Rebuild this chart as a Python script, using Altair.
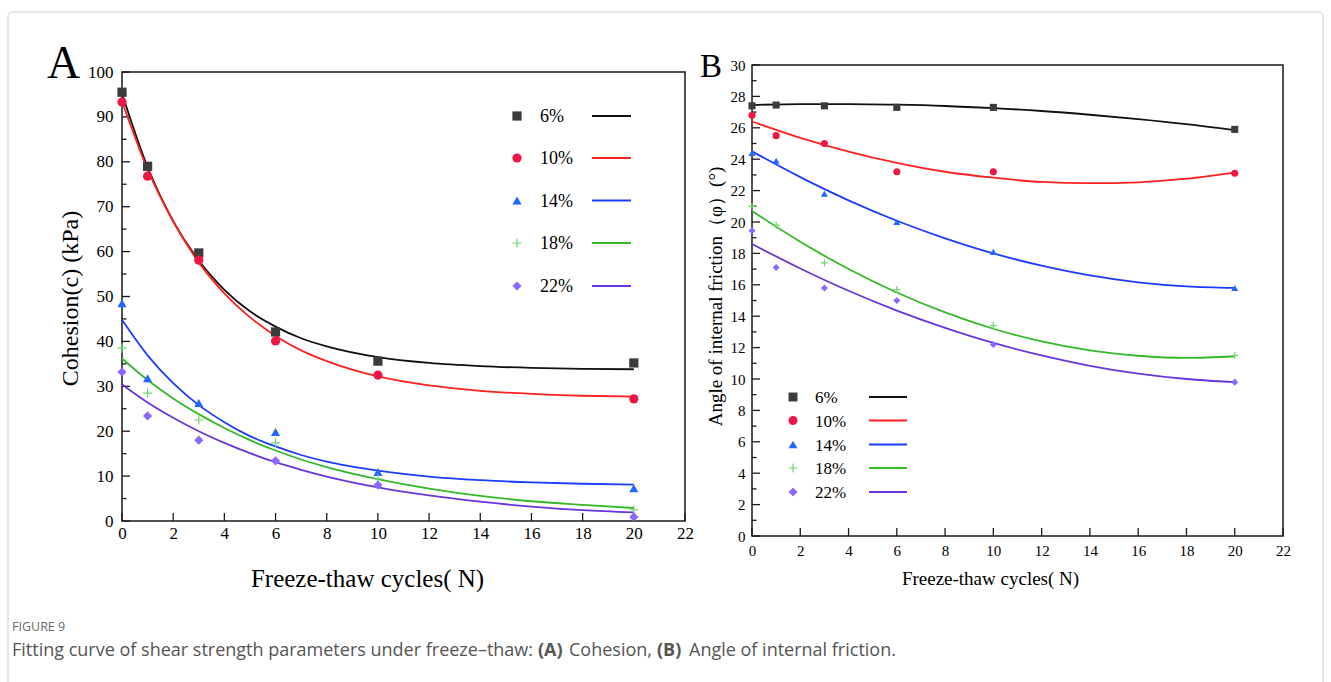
import altair as alt
import pandas as pd

SERIF = "Liberation Serif"
SANS = "Open Sans"

series = ["6%", "10%", "14%", "18%", "22%"]
marker_colors = ["#3c3c3c", "#ee1744", "#2268ff", "#6fd36f", "#8b68ff"]
line_colors = ["#111111", "#ff2020", "#1c3cff", "#35b82a", "#6a35dd"]
shapes = ["square", "circle", "triangle-up", "M-1,0H1M0,-1V1", "diamond"]

# measured points
cycles = [0, 1, 3, 6, 10, 20]
coh = {
    "6%": [95.5, 79.0, 59.7, 42.1, 35.6, 35.2],
    "10%": [93.3, 76.8, 58.1, 40.1, 32.5, 27.2],
    "14%": [48.5, 31.8, 26.3, 19.8, 10.9, 7.3],
    "18%": [38.5, 28.5, 22.5, 17.4, 9.4, 2.5],
    "22%": [33.2, 23.4, 18.0, 13.4, 8.0, 0.9],
}
phi = {
    "6%": [27.4, 27.45, 27.4, 27.3, 27.3, 25.9],
    "10%": [26.8, 25.5, 25.0, 23.2, 23.2, 23.1],
    "14%": [24.4, 23.9, 21.8, 20.0, 18.1, 15.8],
    "18%": [21.0, 19.8, 17.4, 15.7, 13.4, 11.5],
    "22%": [19.45, 17.1, 15.8, 15.0, 12.2, 9.8],
}

# fitted curves
fit_cycles_A = [0, 1, 2, 3, 4, 5, 6, 7, 8, 10, 12, 14, 16, 18, 20]
fit_coh = {
    "6%": [95.2, 78.8, 66.8, 58.0, 51.5, 46.7, 43.3, 40.7, 38.9, 36.5, 35.2, 34.5, 34.1, 33.9, 33.8],
    "10%": [93.5, 78.3, 66.7, 57.6, 50.7, 45.4, 41.2, 38.0, 35.6, 32.2, 30.2, 29.0, 28.3, 27.9, 27.7],
    "14%": [44.8, 36.9, 30.7, 25.8, 22.0, 18.9, 16.6, 14.7, 13.2, 11.2, 9.9, 9.1, 8.6, 8.3, 8.1],
    "18%": [36.2, 31.4, 27.3, 23.8, 20.7, 18.0, 15.7, 13.7, 12.0, 9.3, 7.2, 5.6, 4.4, 3.6, 2.9],
    "22%": [30.4, 26.4, 23.0, 20.0, 17.4, 15.1, 13.1, 11.4, 9.9, 7.5, 5.7, 4.3, 3.2, 2.4, 1.9],
}
fit_cycles_B = [0, 2, 4, 6, 8, 10, 12, 14, 16, 18, 20]
fit_phi = {
    "6%": [27.45, 27.51, 27.51, 27.47, 27.39, 27.25, 27.07, 26.83, 26.55, 26.23, 25.85],
    "10%": [26.4, 25.36, 24.49, 23.77, 23.20, 22.82, 22.55, 22.47, 22.53, 22.76, 23.15],
    "14%": [24.5, 22.86, 21.38, 20.08, 18.96, 18.0, 17.22, 16.6, 16.16, 15.9, 15.8],
    "18%": [20.7, 18.74, 17.01, 15.51, 14.24, 13.2, 12.39, 11.82, 11.48, 11.34, 11.45],
    "22%": [18.6, 17.04, 15.62, 14.36, 13.26, 12.3, 11.5, 10.84, 10.34, 10.0, 9.8],
}

# axis ticks
A_x_ticks = [0, 2, 4, 6, 8, 10, 12, 14, 16, 18, 20, 22]
A_y_ticks = [0, 10, 20, 30, 40, 50, 60, 70, 80, 90, 100]
A_y_minor = [5, 15, 25, 35, 45, 55, 65, 75, 85, 95]
B_x_ticks = [0, 2, 4, 6, 8, 10, 12, 14, 16, 18, 20, 22]
B_y_ticks = [0, 2, 4, 6, 8, 10, 12, 14, 16, 18, 20, 22, 24, 26, 28, 30]
B_y_minor = [1, 3, 5, 7, 9, 11, 13, 15, 17, 19, 21, 23, 25, 27, 29]

A_xlim = [0, 22]
A_ylim = [0, 100]
B_xlim = [0, 22]
B_ylim = [0, 30]

X_TITLE = "Freeze-thaw cycles( N)"
A_Y_TITLE = "Cohesion(c) (kPa)"
B_Y_TITLE = "Angle of internal friction（φ）(°)"

# layout
A_W, A_H = 563, 456   # panel A drawn from the top of panel B; y=100 sits 7px lower
B_W, B_H = 531, 471
A_YDOM = [0, 100 * 456 / 449]


def make_panel(W, H, xlim, ydom, ylim, xt, yt, ym, pts_x, pts, fit_x, fits, x_title, y_title,
               tick_fs, title_fs_x, title_fs_y, xlab_pad, ylab_pad, xtitle_pos, ytitle_pos,
               msize, leg, letter, extra=None):
    sx = alt.Scale(domain=xlim, nice=False, zero=False)
    sy = alt.Scale(domain=ydom, nice=False, zero=False)
    ax = alt.Axis(values=xt, ticks=False, domain=False, grid=False, format="d", labelFlush=False,
                  labelFont=SERIF, labelFontSize=tick_fs, labelColor="black", labelPadding=xlab_pad,
                  title=x_title, titleFont=SERIF, titleFontSize=title_fs_x, titleFontWeight="normal",
                  titleColor="black", titleX=xtitle_pos[0], titleY=xtitle_pos[1],
                  titleBaseline="middle", titleAlign="center")
    ay = alt.Axis(values=yt, ticks=False, domain=False, grid=False, format="d", labelFlush=False,
                  labelFont=SERIF, labelFontSize=tick_fs, labelColor="black", labelPadding=ylab_pad,
                  title=y_title, titleFont=SERIF, titleFontSize=title_fs_y, titleFontWeight="normal",
                  titleColor="black", titleX=ytitle_pos[0], titleY=ytitle_pos[1],
                  titleBaseline="middle", titleAlign="center", titleAngle=270)

    def X(f):
        return alt.X(f, type="quantitative", scale=sx, axis=ax)

    def Y(f):
        return alt.Y(f, type="quantitative", scale=sy, axis=ay)

    layers = []
    if extra:
        layers.extend(extra)
    # frame of the plot area
    frame = pd.DataFrame({"x0": [xlim[0]], "x1": [xlim[1]], "y0": [ylim[0]], "y1": [ylim[1]]})
    layers.append(alt.Chart(frame).mark_rect(fillOpacity=0, stroke="#1a1a1a", strokeWidth=1.5).encode(
        x=X("x0"), x2="x1", y=Y("y0"), y2="y1"))
    # ticks (inward)
    layers.append(alt.Chart(pd.DataFrame({"x": xt})).mark_rule(color="#1a1a1a", strokeWidth=1.3).encode(
        x=X("x"), y=alt.value(H), y2=alt.value(H - 8)))
    layers.append(alt.Chart(pd.DataFrame({"y": yt})).mark_rule(color="#1a1a1a", strokeWidth=1.3).encode(
        y=Y("y"), x=alt.value(0), x2=alt.value(8)))
    layers.append(alt.Chart(pd.DataFrame({"y": ym})).mark_rule(color="#1a1a1a", strokeWidth=1.3).encode(
        y=Y("y"), x=alt.value(0), x2=alt.value(4.5)))

    # fitted curves
    rows = []
    for s in series:
        for xv, yv in zip(fit_x, fits[s]):
            rows.append({"series": s, "x": xv, "y": yv})
    layers.append(alt.Chart(pd.DataFrame(rows)).mark_line(interpolate="monotone", strokeWidth=1.8).encode(
        x=X("x"), y=Y("y"),
        color=alt.Color("series:N", scale=alt.Scale(domain=series, range=line_colors), legend=None),
        detail="series:N"))

    # measured points
    for s, mc, sh in zip(series, marker_colors, shapes):
        df = pd.DataFrame({"x": pts_x, "y": pts[s]})
        if sh.startswith("M"):
            mk = alt.Chart(df).mark_point(shape=sh, filled=False, color=mc, strokeWidth=1.2,
                                          size=msize, opacity=1)
        else:
            mk = alt.Chart(df).mark_point(shape=sh, filled=True, color=mc, size=msize, opacity=1)
        layers.append(mk.encode(x=X("x"), y=Y("y")))

    # legend drawn with marks
    lx_sym, lx_txt, lx_l0, lx_l1, ly, lfs, lsize = leg
    for s, mc, lc, sh, yy in zip(series, marker_colors, line_colors, shapes, ly):
        d = pd.DataFrame({"series": [s]})
        if sh.startswith("M"):
            sym = alt.Chart(d).mark_point(shape=sh, filled=False, color=mc, strokeWidth=1.2,
                                          size=lsize, opacity=1)
        else:
            sym = alt.Chart(d).mark_point(shape=sh, filled=True, color=mc, size=lsize, opacity=1)
        layers.append(sym.encode(x=alt.value(lx_sym), y=alt.value(yy)))
        layers.append(alt.Chart(d).mark_text(font=SERIF, fontSize=lfs, align="left", baseline="middle",
                                             color="black").encode(
            x=alt.value(lx_txt), y=alt.value(yy + 1), text="series:N"))
        layers.append(alt.Chart(d).mark_rule(color=lc, strokeWidth=1.8).encode(
            x=alt.value(lx_l0), x2=alt.value(lx_l1), y=alt.value(yy)))

    # panel letter
    ltxt, lxp, lyp, lfs2 = letter
    layers.append(alt.Chart(pd.DataFrame({"t": [ltxt]})).mark_text(
        font=SERIF, fontSize=lfs2, align="left", baseline="alphabetic", color="black").encode(
        x=alt.value(lxp), y=alt.value(lyp), text="t:N"))

    return alt.layer(*layers).properties(width=W, height=H)


# figure frame and caption (relative to panel A origin at 122, 65)
cap_df = pd.DataFrame({"t": ["FIGURE 9"]})
outer = alt.Chart(pd.DataFrame({"t": [""]})).mark_rect(
    fillOpacity=0, stroke="#cfcfcf", strokeWidth=1, cornerRadius=4).encode(
    x=alt.value(-114), x2=alt.value(1201), y=alt.value(-53), y2=alt.value(660))
cap_segments = [
    ("Fitting curve of shear strength parameters under freeze\u2013thaw:", "normal", -110),
    ("(A)", "bold", 416),
    ("Cohesion,", "normal", 447),
    ("(B)", "bold", 535),
    ("Angle of internal friction.", "normal", 567),
]
caption_layers = [outer,
                  alt.Chart(cap_df).mark_text(font=SANS, fontSize=12.5, align="left", baseline="alphabetic",
                                              color="#6b6b6b").encode(
                      x=alt.value(-110), y=alt.value(566), text="t:N")]
for txt, wt, xp in cap_segments:
    caption_layers.append(alt.Chart(pd.DataFrame({"t": [txt]})).mark_text(
        font=SANS, fontSize=18, fontWeight=wt, align="left", baseline="alphabetic",
        color="#555555").encode(x=alt.value(xp), y=alt.value(591), text="t:N"))

panelA = make_panel(
    A_W, A_H, A_xlim, A_YDOM, A_ylim, A_x_ticks, A_y_ticks, A_y_minor,
    cycles, coh, fit_cycles_A, fit_coh, X_TITLE, A_Y_TITLE,
    tick_fs=17, title_fs_x=25, title_fs_y=24, xlab_pad=4, ylab_pad=9,
    xtitle_pos=(245, 57), ytitle_pos=(-52, 233), msize=85,
    leg=(395, 418, 470, 509, [51, 93, 135.5, 178, 221], 18, 85),
    letter=("A", -75, 13, 46), extra=caption_layers)

panelB = make_panel(
    B_W, B_H, B_xlim, B_ylim, B_ylim, B_x_ticks, B_y_ticks, B_y_minor,
    cycles, phi, fit_cycles_B, fit_phi, X_TITLE, B_Y_TITLE,
    tick_fs=15, title_fs_x=19, title_fs_y=19, xlab_pad=7, ylab_pad=7,
    xtitle_pos=(238, 42), ytitle_pos=(-37, 231), msize=50,
    leg=(41, 63, 117, 155, [332, 355.5, 379.5, 403, 427], 17, 80),
    letter=("B", -52, 12, 33))

chart = alt.hconcat(panelA, panelB, spacing=67, bounds="flush").properties(
    autosize=alt.AutoSizeParams(type="none"),
    padding={"left": 122, "top": 65, "right": 1209, "bottom": 617},
    background="white",
).configure_view(stroke=None)

chart.save("out.html", embed_options={"renderer": "svg", "actions": False})
